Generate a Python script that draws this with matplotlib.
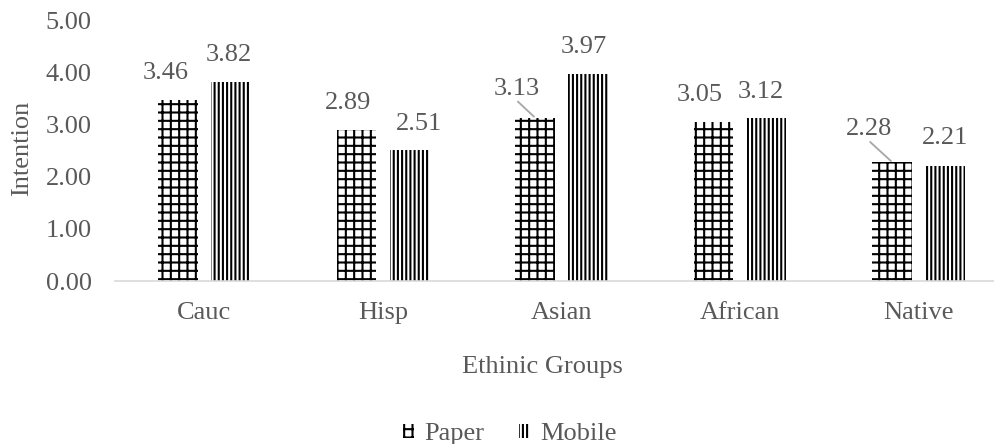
import matplotlib
matplotlib.use("Agg")
import matplotlib.pyplot as plt
import numpy as np

# Mean intention scores by ethnic group for the two survey formats
groups = ["Cauc", "Hisp", "Asian", "African", "Native"]
paper = [3.46, 2.89, 3.13, 3.05, 2.28]
mobile = [3.82, 2.51, 3.97, 3.12, 2.21]
yticks = [0, 1, 2, 3, 4, 5]
series_names = ["Paper", "Mobile"]

# Label placement (pixel offsets from each bar's top centre) and leader lines
paper_label_offsets = [(-12, -27), (-8, -27.5), (-18, -29), (-13.5, -26.6), (-23, -33)]
mobile_label_offsets = [(-2, -27), (9.5, -26), (-4, -27), (-6, -26.5), (0, -27.5)]
paper_leaders = [False, False, True, False, True]

TEXT = "#595959"
plt.rcParams["font.family"] = ["Liberation Serif", "DejaVu Serif"]
plt.rcParams["hatch.linewidth"] = 1.5
FS = 19

W, H = 995, 444
fig = plt.figure(figsize=(W / 100, H / 100), dpi=100)
ax = fig.add_axes([115.25 / W, 1 - 281 / H, 892.5 / W, 261 / H])

x = np.arange(len(groups))
bw = 0.224
off = 0.1485
b1 = ax.bar(x - off, paper, bw, facecolor="white", edgecolor="black",
            linewidth=0, hatch="++", label=series_names[0])
b2 = ax.bar(x + off, mobile, bw, facecolor="white", edgecolor="black",
            linewidth=0, hatch="||||", label=series_names[1])

px = 72 / 100  # points per pixel

def put_labels(bars, vals, offsets, leaders):
    for rect, v, (dx, dy), lead in zip(bars, vals, offsets, leaders):
        cx = rect.get_x() + rect.get_width() / 2
        ax.annotate(f"{v:.2f}", xy=(cx, v), xytext=(dx * px, -dy * px),
                    textcoords="offset points", ha="center", va="center",
                    fontsize=FS, color=TEXT)
        if lead:
            # short grey leader from the label down to the bar top
            ax.annotate("", xy=(cx, v), xytext=(dx * px * 0.95, (-dy - 13) * px),
                        textcoords="offset points",
                        arrowprops=dict(arrowstyle="-", color="#a6a6a6", lw=1.3,
                                        shrinkA=0, shrinkB=1))

put_labels(b1, paper, paper_label_offsets, paper_leaders)
put_labels(b2, mobile, mobile_label_offsets, [False] * len(mobile))

ax.set_xlim(-0.5, len(groups) - 0.5)
ax.set_ylim(0, 5)
ax.set_yticks(yticks)
ax.set_yticklabels([f"{t:.2f}" for t in yticks])
ax.set_xticks(x)
ax.set_xticklabels(groups)
ax.tick_params(axis="both", length=0, labelsize=FS, labelcolor=TEXT)
ax.tick_params(axis="y", pad=17)
ax.tick_params(axis="x", pad=15)
for s in ["top", "right", "left"]:
    ax.spines[s].set_visible(False)
ax.spines["bottom"].set_color("#d9d9d9")
ax.spines["bottom"].set_linewidth(1.2)

fig.text(542 / W, 1 - 367 / H, "Ethinic Groups", ha="center", va="center",
         fontsize=FS, color=TEXT)
fig.text(22 / W, 1 - 148 / H, "Intention", ha="center", va="center",
         rotation=90, fontsize=FS, color=TEXT)

leg = fig.legend(handles=[b1, b2], loc="center", bbox_to_anchor=(510 / W, 1 - 434 / H),
                 ncol=2, frameon=False, fontsize=FS, handlelength=0.4,
                 handleheight=0.45, handletextpad=0.4, columnspacing=1.3,
                 borderpad=0, borderaxespad=0)
for t in leg.get_texts():
    t.set_color(TEXT)

fig.savefig("out.png", dpi=100)
